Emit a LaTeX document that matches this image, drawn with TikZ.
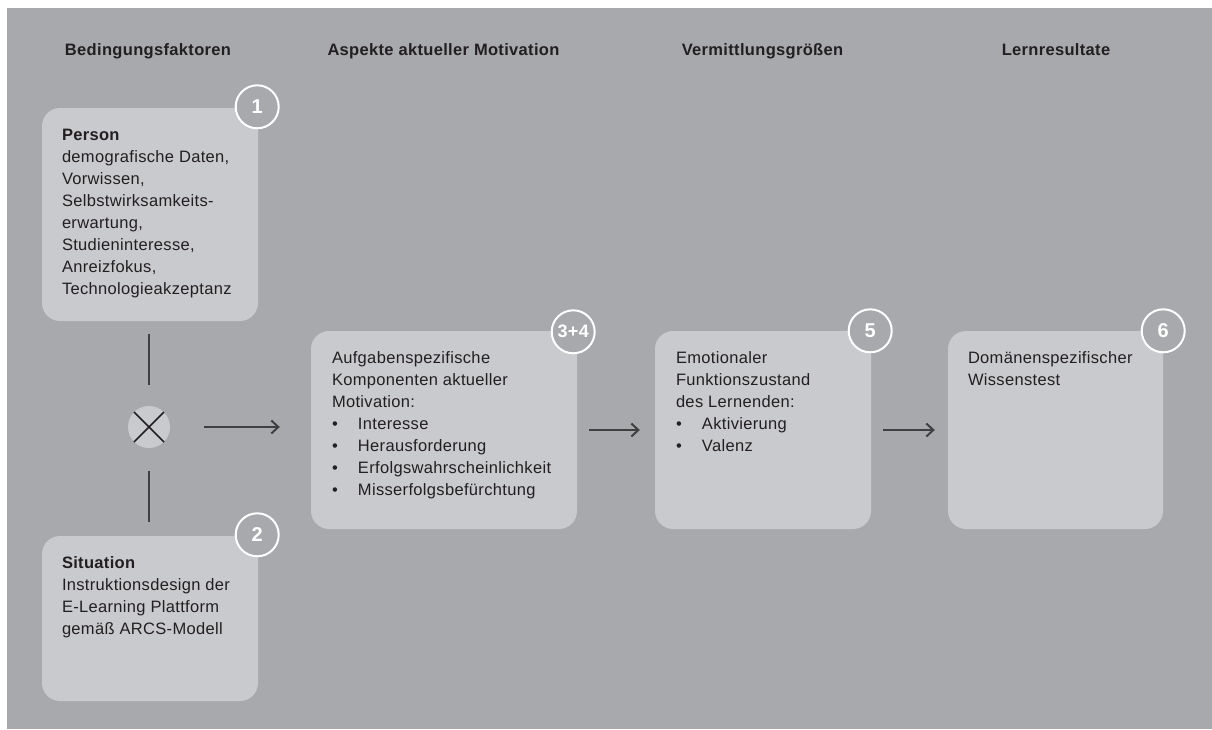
\documentclass[tikz,border=0pt]{standalone}
\usepackage{fontspec}
\setmainfont{Liberation Sans}[LetterSpace=2]
\usetikzlibrary{arrows.meta,calc}
\definecolor{bg}{HTML}{A8A9AC}
\definecolor{boxc}{HTML}{C9CACD}
\definecolor{txt}{HTML}{231F20}
\definecolor{ln}{HTML}{404040}
\tikzset{
  panel/.style={rectangle, rounded corners=18pt, fill=boxc, inner sep=0pt},
  bodytext/.style={font=\fontsize{16.5}{22}\selectfont, text=txt, align=left, inner sep=0pt, anchor=base west},
  hdr/.style={font=\bfseries\fontsize{16.5}{20}\selectfont, text=txt, anchor=base, inner sep=0pt},
  num/.style={circle, draw=white, line width=2pt, fill=bg, minimum size=43pt, inner sep=0pt, text=white, font=\bfseries\fontsize{20}{22}\selectfont},
  conn/.style={draw=ln, line width=2pt},
  arr/.style={draw=ln, line width=2pt, -{Straight Barb[length=7pt,width=13pt,line width=2pt]}},
}
\newcommand{\bul}[1]{\makebox[26pt][l]{•}#1}
\begin{document}
\begin{tikzpicture}[x=1pt,y=-1pt]
\useasboundingbox (0,0) rectangle (1212,729);
\fill[white] (0,0) rectangle (1212,729);
\fill[bg] (7,8) rectangle (1212,729);

% headers
\node[hdr] (h1) at (148,55) {Bedingungsfaktoren};
\node[hdr] (h2) at (443.5,55) {Aspekte aktueller Motivation};
\node[hdr] (h3) at (762.5,55) {Vermittlungsgrößen};
\node[hdr] (h4) at (1056,55) {Lernresultate};

% panels
\node[panel, minimum width=216pt, minimum height=213pt] (b1) at (150,214.5) {};
\node[panel, minimum width=216pt, minimum height=165pt] (b2) at (150,618.5) {};
\node[panel, minimum width=266pt, minimum height=198pt] (b3) at (444,430) {};
\node[panel, minimum width=216pt, minimum height=198pt] (b4) at (763,430) {};
\node[panel, minimum width=215pt, minimum height=198pt] (b5) at (1055.5,430) {};

% texts (base anchor = baseline of the last line)
\node[bodytext] (t1) at ($(b1.north west)+(20,32.5+7*22)$) {\textbf{Person}\\demografische Daten,\\Vorwissen,\\Selbstwirksamkeits-\\erwartung,\\Studieninteresse,\\Anreizfokus,\\Technologieakzeptanz};
\node[bodytext] (t2) at ($(b2.north west)+(20,33+3*22)$) {\textbf{Situation}\\Instruktionsdesign der\\E-Learning Plattform\\gemäß ARCS-Modell};
\node[bodytext] (t3) at ($(b3.north west)+(21,33+6*22)$) {Aufgabenspezifische\\Komponenten aktueller\\Motivation:\\\bul{Interesse}\\\bul{Herausforderung}\\\bul{Erfolgswahrscheinlichkeit}\\\bul{Misserfolgsbefürchtung}};
\node[bodytext] (t4) at ($(b4.north west)+(21,33+4*22)$) {Emotionaler\\Funktionszustand\\des Lernenden:\\\bul{Aktivierung}\\\bul{Valenz}};
\node[bodytext] (t5) at ($(b5.north west)+(20,33+22)$) {Domänenspezifischer\\Wissenstest};

% number circles
\node[num] (n1) at ($(b1.north east)+(-1,-1)$) {1};
\node[num] (n2) at ($(b2.north east)+(-1,-1)$) {2};
\node[num, font=\bfseries\fontsize{18}{20}\selectfont] (n34) at ($(b3.north east)+(-4,1)$) {3+4};
\node[num] (n5) at ($(b4.north east)+(-1,0)$) {5};
\node[num] (n6) at (b5.north east) {6};

% combination node
\node[circle, fill=boxc, minimum size=42pt, inner sep=0pt] (x) at (149,427) {};
\draw[txt, line width=1.6pt] ($(x.center)+(-15,-15)$) -- ($(x.center)+(15,15)$);
\draw[txt, line width=1.6pt] ($(x.center)+(15,-15)$) -- ($(x.center)+(-15,15)$);

% connectors
\draw[conn, shorten <=13pt, shorten >=21pt] (b1.south -| x) -- (x.north);
\draw[conn, shorten <=23pt, shorten >=14pt] (x.south) -- (b2.north -| x);
\draw[arr, shorten <=34pt, shorten >=31pt] (x.east) -- (x.east -| b3.west);
\draw[arr, shorten <=12pt, shorten >=15pt] (b3.east) -- (b4.west);
\draw[arr, shorten <=12pt, shorten >=13pt] (b4.east) -- (b5.west);
\end{tikzpicture}
\end{document}
